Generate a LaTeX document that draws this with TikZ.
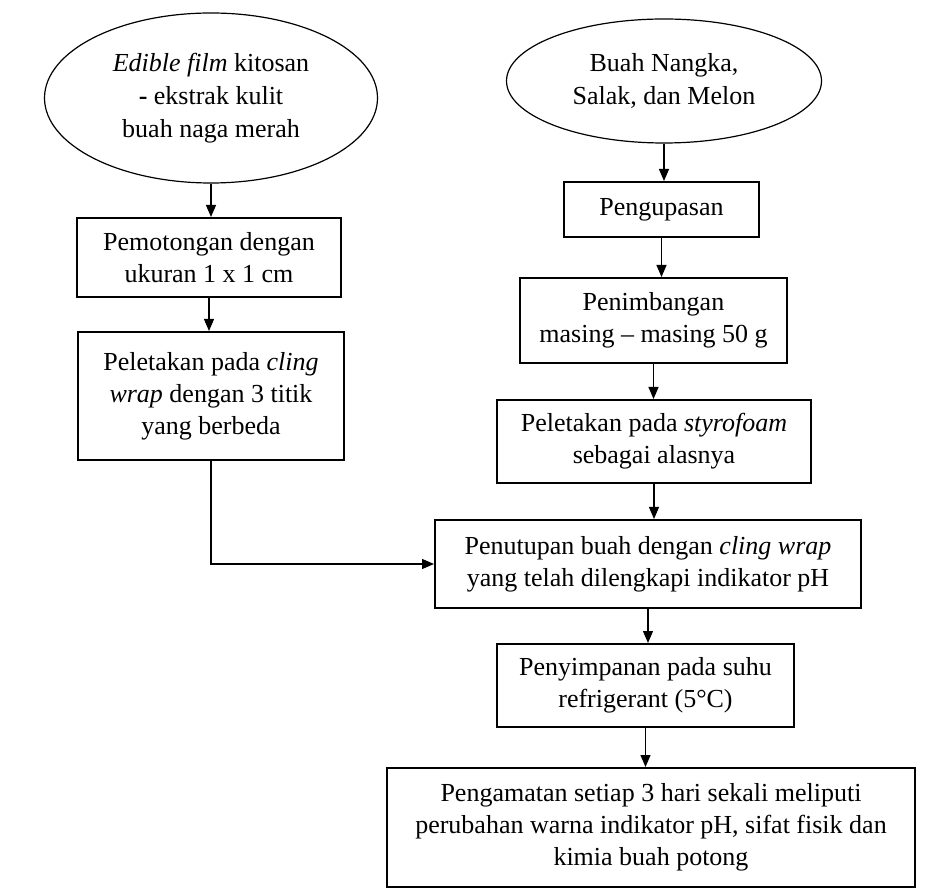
\documentclass[tikz,border=0pt]{standalone}
\usepackage{fontspec}
\setmainfont{Liberation Serif}
\usetikzlibrary{arrows.meta,shapes.geometric,positioning}
\tikzset{proses/.style={draw,line width=1pt,align=center,inner sep=0pt,font=\fontsize{13}{16}\selectfont},
	mulai/.style={draw,ellipse,line width=0.6pt,align=center,inner sep=0pt,font=\fontsize{13}{16.5}\selectfont},
	alur/.style={->,line width=0.6pt}}

\begin{document}
\begin{tikzpicture}[x=0.5pt,y=-0.5pt,>={Triangle[length=6pt,width=5pt]}]
	\useasboundingbox (0,0) rectangle (931,892);
	
	% kolom kiri
	\node[mulai,minimum width=166.5pt,minimum height=85pt] (E1) at (211,98) {\textit{Edible film} kitosan\\\textbf{-} ekstrak kulit\\buah naga merah};
	\node[proses,minimum width=132pt,minimum height=39.5pt] (B1) at (209,257.5) {Pemotongan dengan\\ukuran 1 x 1 cm};
	\node[proses,minimum width=133pt,minimum height=64pt] (B2) at (211,396) {Peletakan pada \textit{cling}\\\textit{wrap} dengan 3 titik\\yang berbeda};
	
	% kolom kanan
	\node[mulai,minimum width=157.5pt,minimum height=62pt] (E2) at (664,81) {Buah Nangka,\\Salak, dan Melon};
	\node[proses,minimum width=97.5pt,minimum height=27.5pt] (R1) at (661.5,209.5) {Pengupasan};
	\node[proses,minimum width=133.5pt,minimum height=42.5pt] (R2) at (653.5,320.5) {Penimbangan\\masing -- masing 50 g};
	\node[proses,minimum width=157pt,minimum height=41.5pt] (R3) at (654,441.5) {Peletakan pada \textit{styrofoam}\\sebagai alasnya};
	\node[proses,minimum width=213pt,minimum height=44pt] (R4) at (648,564) {Penutupan buah dengan \textit{cling wrap}\\yang telah dilengkapi indikator pH};
	\node[proses,minimum width=148.5pt,minimum height=41.5pt] (R5) at (645.5,685.5) {Penyimpanan pada suhu\\refrigerant (5°C)};
	\node[proses,minimum width=264pt,minimum height=59.5pt] (R6) at (651,827.5) {Pengamatan setiap 3 hari sekali meliputi\\perubahan warna indikator pH, sifat fisik dan\\kimia buah potong};
	
	% panah
	\foreach \a/\b in {E1/B1,B1/B2,E2/R1,R1/R2,R2/R3,R3/R4,R4/R5,R5/R6}
		\draw[alur] (\a.south) -- (\a.south |- \b.north);
	\draw[alur] (B2.south) |- (R4.west);
\end{tikzpicture}
\end{document}
